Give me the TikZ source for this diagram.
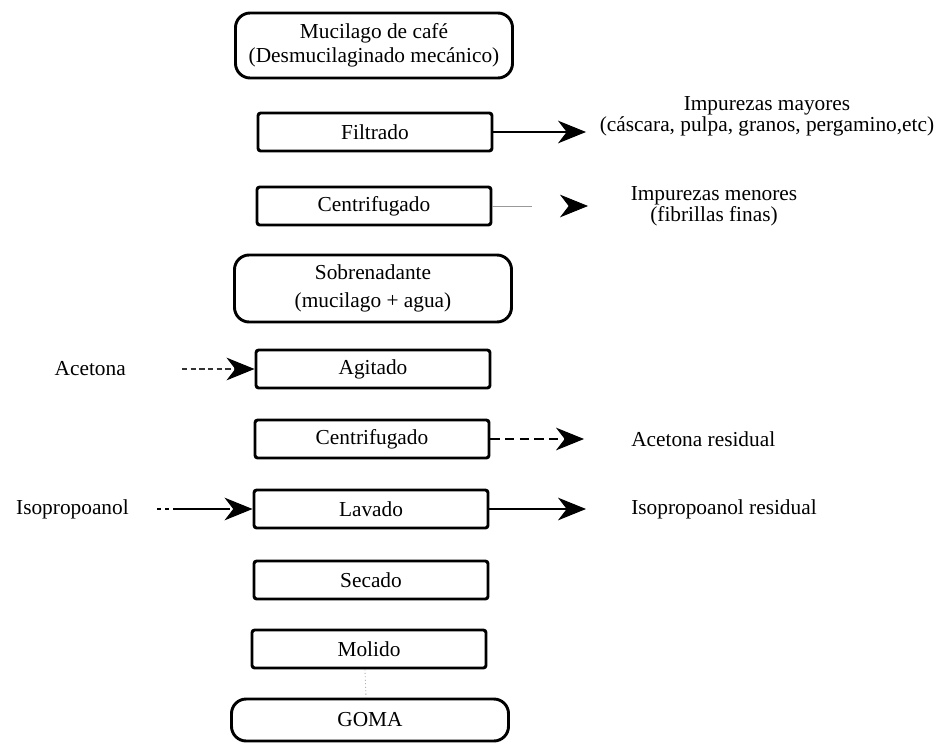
\documentclass[tikz,border=0pt]{standalone}
\usepackage{fontspec}
\setmainfont{Liberation Serif}
\usetikzlibrary{arrows.meta}
\begin{document}
\begin{tikzpicture}[x=0.75pt,y=-0.75pt,
  every node/.style={font=\fontsize{16}{18}\selectfont, inner sep=0pt},
  rbox/.style={draw, line width=2.2pt, rounded corners=11pt, minimum width=207.75pt, align=center},
  sbox/.style={draw, line width=2.2pt, rounded corners=2pt, minimum width=175.5pt, minimum height=28.5pt},
  lbl/.style={align=center},
  flow/.style={line width=0.8pt, -{Stealth[length=21pt,width=17pt,inset=6.5pt,black]}},
  faint/.style={draw=black!45, line width=0.6pt}
]
\useasboundingbox (0,0) rectangle (934,742);

% main column
\node[rbox, minimum height=48.75pt] (mu) at (374,45.5) {Mucilago de café\\(Desmucilaginado mecánico)};
\node[sbox] (fi) at (375,132) {Filtrado};
\node[sbox] (c1) at (374,206) {Centrifugado};
\node[rbox, minimum height=50.25pt, font=\fontsize{16}{21}\selectfont] (so) at (373,288.5) {Sobrenadante\\(mucilago + agua)};
\node[sbox] (ag) at (373,369) {Agitado};
\node[sbox] (c2) at (372,439) {Centrifugado};
\node[sbox] (la) at (371,509) {Lavado};
\node[sbox] (se) at (371,580) {Secado};
\node[sbox] (mo) at (369,649) {Molido};
\node[rbox, minimum height=31.5pt] (go) at (370,720) {GOMA};

% side labels
\node[lbl, font=\fontsize{16}{15.5}\selectfont] (may) at (767,116) {Impurezas mayores\\(cáscara, pulpa, granos, pergamino,etc)};
\node[lbl, font=\fontsize{16}{15.5}\selectfont] (men) at (714,206) {Impurezas menores\\(fibrillas finas)};
\node[anchor=east] (ac) at (126,369) {Acetona};
\node[anchor=east] (iso) at (129,509) {Isopropoanol};
\node[anchor=west] (acr) at (631,439) {Acetona residual};
\node[anchor=west] (isr) at (631,509) {Isopropoanol residual};

% free ends
\coordinate (tf) at (586,132);
\coordinate (tc1) at (588,206);
\coordinate (tc2) at (584,439);
\coordinate (tla) at (586,509);
\coordinate (sac) at (182,369);
\coordinate (siso) at (157,509);

% connectors
\draw[flow] (fi.east) -- (tf);
\draw[flow, draw=black!40, line width=0.6pt, dash pattern=on 30pt off 30pt] (c1.east) -- (tc1);
\draw[flow, draw=black!80, dash pattern=on 4pt off 2.5pt] (sac) -- (ag.west);
\draw[flow, dash pattern=on 7pt off 4pt] (c2.east) -- (tc2);
\draw[flow, dash pattern=on 3pt off 3pt on 3pt off 3pt on 40pt off 0pt] (siso) -- (la.west);
\draw[flow] (la.east) -- (tla);
\draw[faint, dotted] ([xshift=-3pt]mo.south) -- ([xshift=-3pt]go.north);
\end{tikzpicture}
\end{document}
